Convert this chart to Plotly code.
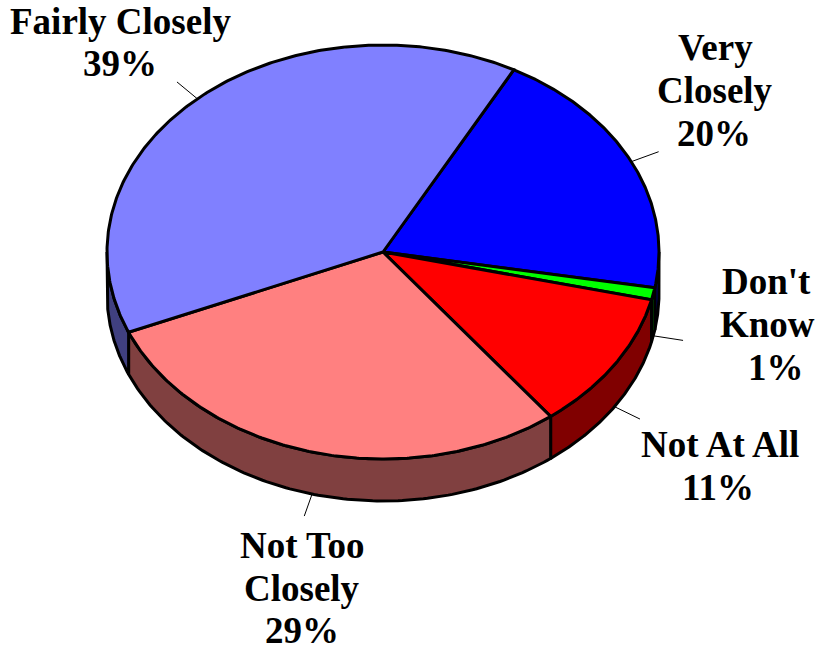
import numpy as np
import plotly.graph_objects as go

categories = ["Very Closely", "Don't Know", "Not At All", "Not Too Closely", "Fairly Closely"]
values = [19.9, 0.95, 10.9, 29.05, 39.2]
top_colors = ["#0000FF", "#00FF00", "#FF0000", "#FF8080", "#8080FF"]
side_colors = ["#000080", "#008000", "#800000", "#804040", "#404080"]

label_lines = [
    (["Very", "Closely", "20%"], [(715, 47), (715, 90), (714, 133)]),
    (["Don't", "Know", "1%"], [(766, 281), (767, 324), (776, 367)]),
    (["Not At All", "11%"], [(720, 444), (718, 487)]),
    (["Not Too", "Closely", "29%"], [(302, 545), (302, 588), (302, 630)]),
    (["Fairly Closely", "39%"], [(120, 21), (120, 63)]),
]

CX, CY, RX, RY, DEPTH = 383, 252, 276, 207, 42
START = 28.3
LW = 3
LEADER = 1.11


def ex(a):
    return CX + RX * np.sin(np.radians(a))


def ey(a):
    return CY - RY * np.cos(np.radians(a))


fractions = np.array(values) / sum(values) * 360
starts = START + np.concatenate([[0], np.cumsum(fractions)[:-1]])
ends = starts + fractions

fig = go.Figure()


def poly(xs, ys, fill, name):
    fig.add_trace(go.Scatter(x=xs, y=ys, mode="lines", fill="toself", fillcolor=fill,
                             line=dict(color="black", width=LW), name=name,
                             hoverinfo="name", showlegend=False))


# side walls (only the front half, angles 90-270, is visible)
for name, s, e, c in zip(categories, starts, ends, side_colors):
    lo, hi = max(s, 90), min(e, 270)
    if hi <= lo:
        continue
    t = np.linspace(lo, hi, 120)
    xs = np.concatenate([ex(t), ex(t[::-1]), [ex(t[0])]])
    ys = np.concatenate([ey(t), ey(t[::-1]) + DEPTH, [ey(t[0])]])
    poly(xs, ys, c, name)

# top faces
for name, s, e, c in zip(categories, starts, ends, top_colors):
    t = np.linspace(s, e, 240)
    xs = np.concatenate([[CX], ex(t), [CX]])
    ys = np.concatenate([[CY], ey(t), [CY]])
    poly(xs, ys, c, name)

# leader lines, along each slice's middle angle
for name, s, e in zip(categories, starts, ends):
    m = (s + e) / 2
    off = DEPTH if 90 < (m % 360) < 270 else 0
    x0, y0 = ex(m), ey(m) + off
    x1 = CX + (x0 - CX) * LEADER
    y1 = CY + off + (ey(m) - CY) * LEADER
    fig.add_trace(go.Scatter(x=[x0, x1], y=[y0, y1], mode="lines",
                             line=dict(color="black", width=1),
                             hoverinfo="skip", showlegend=False))

for lines, positions in label_lines:
    for text, (x, y) in zip(lines, positions):
        fig.add_annotation(x=x, y=y, text=f"<b>{text}</b>", showarrow=False,
                           xanchor="center", yanchor="middle",
                           font=dict(family="Liberation Serif", size=37, color="black"))

fig.update_layout(
    width=815, height=645, margin=dict(l=0, r=0, t=0, b=0),
    paper_bgcolor="white", plot_bgcolor="white", showlegend=False,
    xaxis=dict(range=[0, 815], visible=False, fixedrange=True),
    yaxis=dict(range=[645, 0], visible=False, fixedrange=True),
)
fig.write_html("out.html", config={"displayModeBar": False},
               post_script="document.body.style.margin='0';")
